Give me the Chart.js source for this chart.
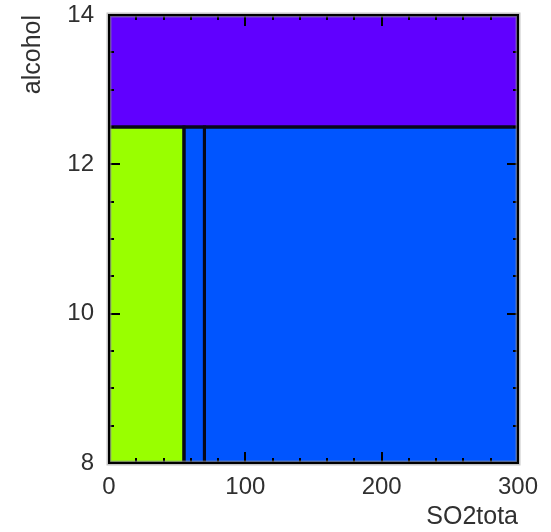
<!DOCTYPE html>
<html>
<head>
<meta charset="utf-8">
<script src="https://cdn.jsdelivr.net/npm/chart.js@4/dist/chart.umd.min.js"></script>
<style>
  html, body { margin: 0; padding: 0; background: #ffffff; }
  #wrap { width: 551px; height: 532px; }
</style>
</head>
<body>
<div id="wrap"><canvas id="chart" width="551" height="532"></canvas></div>
<script>
// Classification regions of a tree split on SO2tota and alcohol
const regionNames = ['alcohol >= 12.5', 'SO2tota < 55', 'SO2tota 55-70', 'SO2tota >= 70'];
const regionXFrom = [0, 0, 55, 70];
const regionXTo   = [300, 55, 70, 300];
const regionYFrom = [12.5, 8, 8, 8];
const regionYTo   = [14, 12.5, 12.5, 12.5];
const regionColors = ['#6000ff', '#99ff00', '#0055ff', '#0055ff'];

// Axis tick labels
const xTickValues = [0, 100, 200, 300];
const yTickValues = [8, 10, 12, 14];

const FONT = "'Liberation Sans', Arial, Helvetica, sans-serif";
const TEXT = '#303030';

const datasets = [];
regionNames.forEach((name, i) => {
  const x0 = regionXFrom[i], x1 = regionXTo[i];
  const y0 = regionYFrom[i], y1 = regionYTo[i];
  // upper edge, filled down to the following (lower edge) dataset
  datasets.push({
    label: name + ' (top)',
    data: [{ x: x0, y: y1 }, { x: x1, y: y1 }],
    fill: '+1',
    backgroundColor: regionColors[i],
    borderWidth: 0,
    pointRadius: 0,
    order: 5
  });
  datasets.push({
    label: name + ' (bottom)',
    data: [{ x: x0, y: y0 }, { x: x1, y: y0 }],
    fill: false,
    borderWidth: 0,
    pointRadius: 0,
    order: 5
  });
});
// region outlines on top of the fills
regionNames.forEach((name, i) => {
  const x0 = regionXFrom[i], x1 = regionXTo[i];
  const y0 = regionYFrom[i], y1 = regionYTo[i];
  datasets.push({
    label: name + ' (outline)',
    data: [{ x: x0, y: y0 }, { x: x1, y: y0 }, { x: x1, y: y1 }, { x: x0, y: y1 }, { x: x0, y: y0 }],
    fill: false,
    borderColor: '#08081a',
    borderWidth: 3,
    pointRadius: 0,
    tension: 0,
    order: 1
  });
});

// inward tick marks on all four sides plus the box frame
const frameTicks = {
  id: 'frameTicks',
  afterDatasetsDraw(chart, args, opts) {
    const { ctx, chartArea: a, scales: { x, y } } = chart;
    ctx.save();
    ctx.strokeStyle = '#000';
    ctx.lineWidth = 2;
    ctx.lineCap = 'butt';
    for (let v = x.min; v <= x.max + 1e-9; v += opts.xMinor) {
      const px = Math.round(x.getPixelForValue(v));
      const len = (Math.abs(v % opts.xMajor) < 1e-9) ? opts.majorLen : opts.minorLen;
      ctx.beginPath();
      ctx.moveTo(px, a.bottom); ctx.lineTo(px, a.bottom - len);
      ctx.moveTo(px, a.top); ctx.lineTo(px, a.top + len);
      ctx.stroke();
    }
    for (let v = y.min; v <= y.max + 1e-9; v += opts.yMinor) {
      const py = Math.round(y.getPixelForValue(v));
      const len = (Math.abs(v % opts.yMajor) < 1e-9) ? opts.majorLen : opts.minorLen;
      ctx.beginPath();
      ctx.moveTo(a.left, py); ctx.lineTo(a.left + len, py);
      ctx.moveTo(a.right, py); ctx.lineTo(a.right - len, py);
      ctx.stroke();
    }
    // soft grey halo, then the black frame
    ctx.strokeStyle = 'rgba(150,150,150,0.55)';
    ctx.lineWidth = 5;
    ctx.strokeRect(a.left, a.top, a.right - a.left, a.bottom - a.top);
    ctx.strokeStyle = '#000';
    ctx.lineWidth = 2;
    ctx.strokeRect(a.left, a.top, a.right - a.left, a.bottom - a.top);
    ctx.restore();
  }
};

new Chart(document.getElementById('chart'), {
  type: 'line',
  data: { datasets },
  options: {
    responsive: false,
    animation: false,
    layout: { padding: { left: 0, top: 15, right: 33, bottom: 0 } },
    plugins: {
      legend: { display: false },
      tooltip: { enabled: false },
      frameTicks: { xMinor: 20, xMajor: 100, yMinor: 0.5, yMajor: 2, majorLen: 11, minorLen: 5 }
    },
    scales: {
      x: {
        type: 'linear',
        min: 0, max: 300,
        afterBuildTicks: s => { s.ticks = xTickValues.map(v => ({ value: v })); },
        afterFit: s => { s.height = 69; s.paddingLeft = 0; s.paddingRight = 0; },
        ticks: { font: { family: FONT, size: 24 }, color: TEXT, padding: 10, maxRotation: 0 },
        grid: { display: false, drawTicks: false },
        border: { display: false },
        title: { display: true, text: 'SO2tota', align: 'end', color: TEXT,
                 font: { family: FONT, size: 25 }, padding: { top: 0, bottom: 0 } }
      },
      y: {
        type: 'linear',
        min: 8, max: 14,
        afterBuildTicks: s => { s.ticks = yTickValues.map(v => ({ value: v })); },
        afterFit: s => { s.width = 109; s.paddingTop = 0; s.paddingBottom = 0; },
        ticks: { font: { family: FONT, size: 24 }, color: TEXT, padding: 15 },
        grid: { display: false, drawTicks: false },
        border: { display: false },
        title: { display: true, text: 'alcohol', align: 'end', color: TEXT,
                 font: { family: FONT, size: 25 }, padding: { top: 18, bottom: 0 } }
      }
    }
  },
  plugins: [frameTicks]
});
</script>
</body>
</html>
